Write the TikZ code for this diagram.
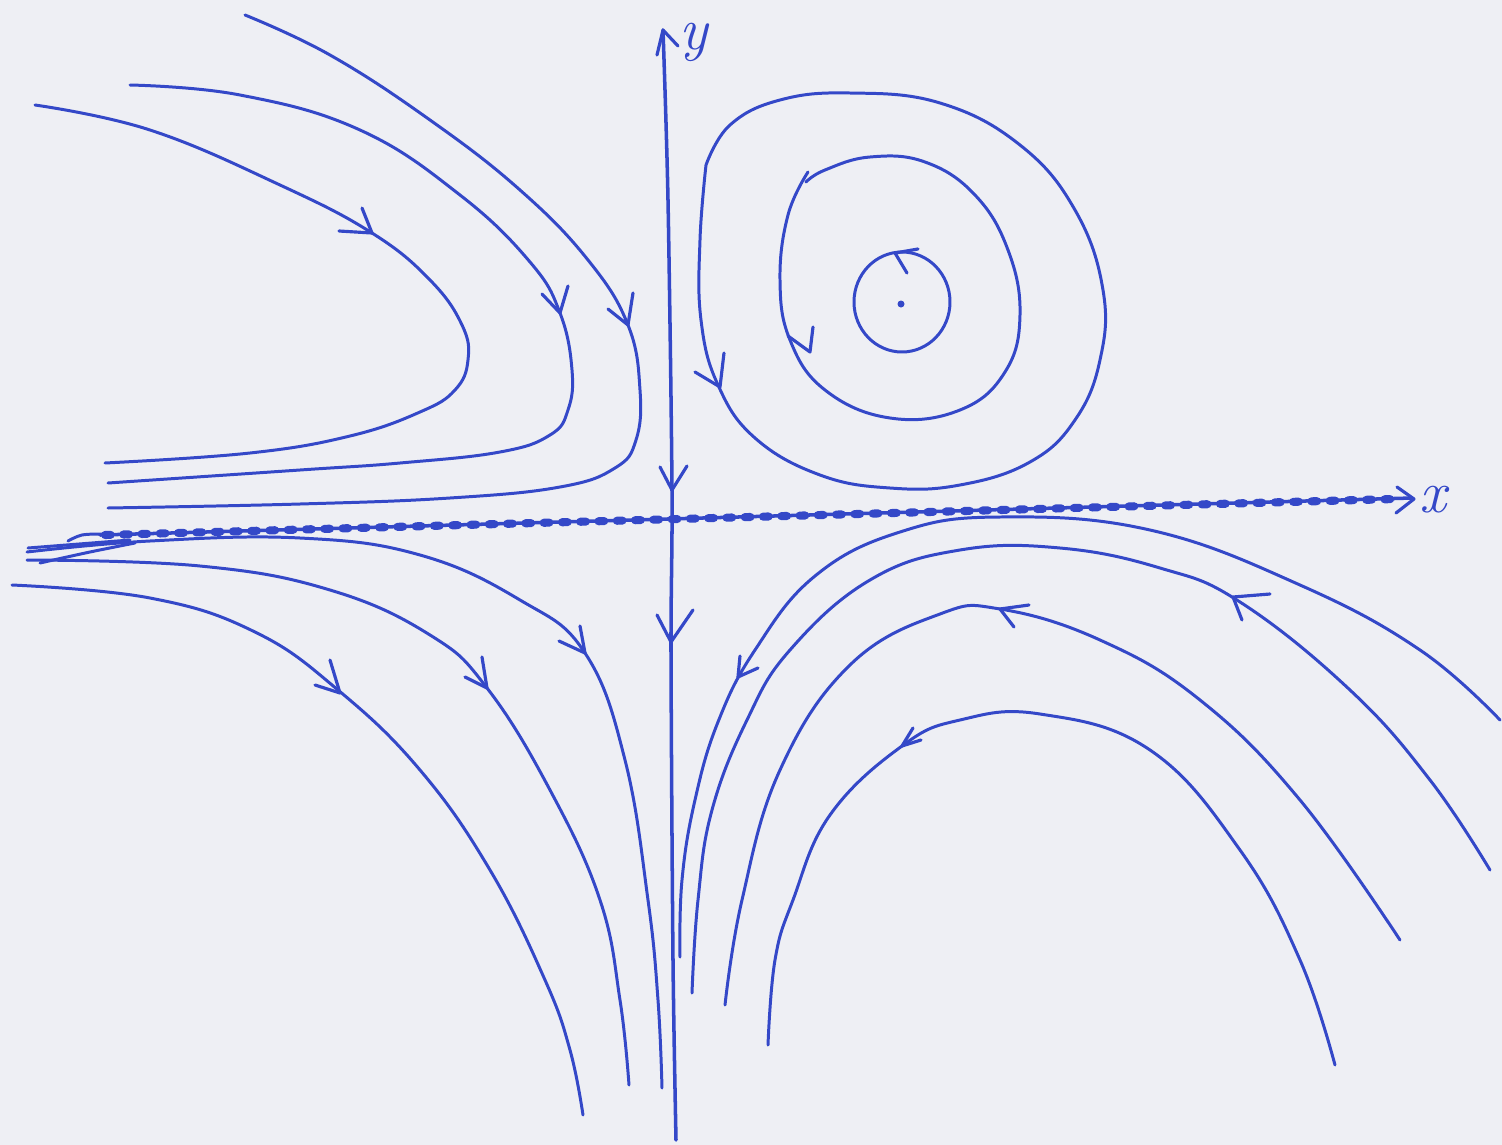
\documentclass[tikz,border=0pt]{standalone}
\definecolor{ink}{RGB}{52,72,200}
\definecolor{paper}{RGB}{238,239,244}
\begin{document}
\begin{tikzpicture}[x=0.01cm,y=-0.01cm, line cap=round, line join=round,
  curve/.style={draw=ink, line width=0.85pt},
  barb/.style={draw=ink, line width=0.9pt},
  axisline/.style={draw=ink, line width=1pt},
  beads/.style={draw=ink, line width=2.3pt, dash pattern=on 1.6pt off 3.6pt},
  lab/.style={text=ink, font=\fontsize{17}{17}\selectfont\itshape, inner sep=1pt}]
\fill[paper] (0,0) rectangle (1502,1145);
\useasboundingbox (0,0) rectangle (1502,1145);

% ---------- axes ----------
\draw[axisline] plot[smooth, tension=0.5] coordinates {(676,1140) (673,960) (671,650) (672,490) (668,200) (663,30)};
\draw[barb] (657,55) -- (663,30) -- (678,46);
\node[lab] (ylab) at (694,42) {y};

\draw[axisline] (100,535) -- (1412,498);
\draw[beads] (105,535) -- (1395,499);
\draw[barb] (1397,487) -- (1414,499) -- (1396,513);
\node[lab] (xlab) at (1433,500) {x};

% arrows on y axis
\draw[barb] (660,467) -- (672,490) -- (687,466);
\draw[barb] (657,615) -- (671,642) -- (693,610);

% small marks at the left
\draw[curve] plot[smooth, tension=0.6] coordinates {(68,541) (82,535) (102,534)};
\draw[curve] plot[smooth, tension=0.6] coordinates {(40,563) (90,552) (135,543)};
\draw[curve] (28,548) -- (130,540);

% ---------- upper left ----------
\draw[curve] plot[smooth, tension=0.7] coordinates {(35,105) (150,130) (280,185) (372,233) (430,280) (462,325) (468,360) (455,390) (420,412) (350,436) (250,453) (105,463)};
\draw[barb] (362,208) -- (372,233) -- (339,231);

\draw[curve] plot[smooth, tension=0.7] coordinates {(130,85) (240,95) (360,130) (460,195) (530,262) (560,313) (572,370) (568,410) (550,435) (500,452) (400,463) (300,470) (108,483)};
\draw[barb] (568,286) -- (560,313) -- (542,294);

\draw[curve] plot[smooth, tension=0.7] coordinates {(245,15) (330,55) (430,120) (520,190) (588,260) (628,325) (640,390) (636,440) (615,468) (560,487) (450,498) (300,504) (108,508)};
\draw[barb] (633,293) -- (628,325) -- (608,309);

% ---------- upper right: closed orbits ----------
\draw[curve] plot[smooth, tension=0.7] coordinates {(706,165) (730,125) (780,100) (850,93) (940,103) (1020,145) (1075,210) (1103,290) (1100,360) (1075,420) (1030,462) (960,485) (890,488) (820,475) (755,438) (718,385) (701,320) (700,240) (706,165)};
\draw[barb] (695,372) -- (720,387) -- (724,353);

\draw[curve] plot[smooth, tension=0.7] coordinates {(808,172) (788,215) (780,280) (790,340) (825,390) (890,418) (960,410) (1005,372) (1020,315) (1008,250) (975,195) (925,162) (870,157) (825,170) (806,182)};
\draw[barb] (788,336) -- (810,352) -- (813,327);

\draw[curve] (902,302) ellipse [x radius=48, y radius=50];
\draw[barb] (907,273) -- (895,253) -- (918,249);
\fill[ink] (901,304) circle [radius=3.5];

% ---------- lower left ----------
\draw[curve] plot[smooth, tension=0.7] coordinates {(12,585) (150,598) (255,632) (338,690) (420,770) (490,870) (545,980) (570,1050) (583,1115)};
\draw[barb] (330,660) -- (340,693) -- (315,685);

\draw[curve] plot[smooth, tension=0.7] coordinates {(27,560) (200,566) (330,590) (430,635) (487,688) (550,790) (600,900) (620,1000) (629,1085)};
\draw[barb] (482,657) -- (487,688) -- (465,677);

\draw[curve] plot[smooth, tension=0.7] coordinates {(27,552) (150,541) (300,538) (420,555) (520,600) (585,653) (625,760) (648,900) (658,1000) (662,1088)};
\draw[barb] (580,626) -- (585,653) -- (559,641);

% ---------- lower right ----------
\draw[curve] plot[smooth, tension=0.7] coordinates {(680,957) (682,880) (695,800) (718,722) (755,650) (815,576) (900,532) (1000,517) (1150,530) (1300,585) (1420,650) (1500,720)};
\draw[barb] (740,656) -- (738,677) -- (758,668);

\draw[curve] plot[smooth, tension=0.7] coordinates {(692,993) (698,900) (712,810) (747,720) (790,650) (870,580) (960,550) (1060,548) (1160,568) (1240,602) (1350,690) (1430,780) (1490,870)};
\draw[barb] (1270,594) -- (1233,597) -- (1242,620);

\draw[curve] plot[smooth, tension=0.7] coordinates {(725,1005) (742,900) (780,770) (850,665) (940,614) (1000,609) (1100,640) (1200,700) (1300,800) (1400,940)};
\draw[barb] (1029,605) -- (1000,609) -- (1014,627);

\draw[curve] plot[smooth, tension=0.7] coordinates {(768,1045) (775,960) (793,900) (830,815) (902,746) (960,720) (1040,714) (1150,750) (1240,850) (1300,960) (1335,1065)};
\draw[barb] (921,740) -- (902,746) -- (913,728);
\end{tikzpicture}
\end{document}
